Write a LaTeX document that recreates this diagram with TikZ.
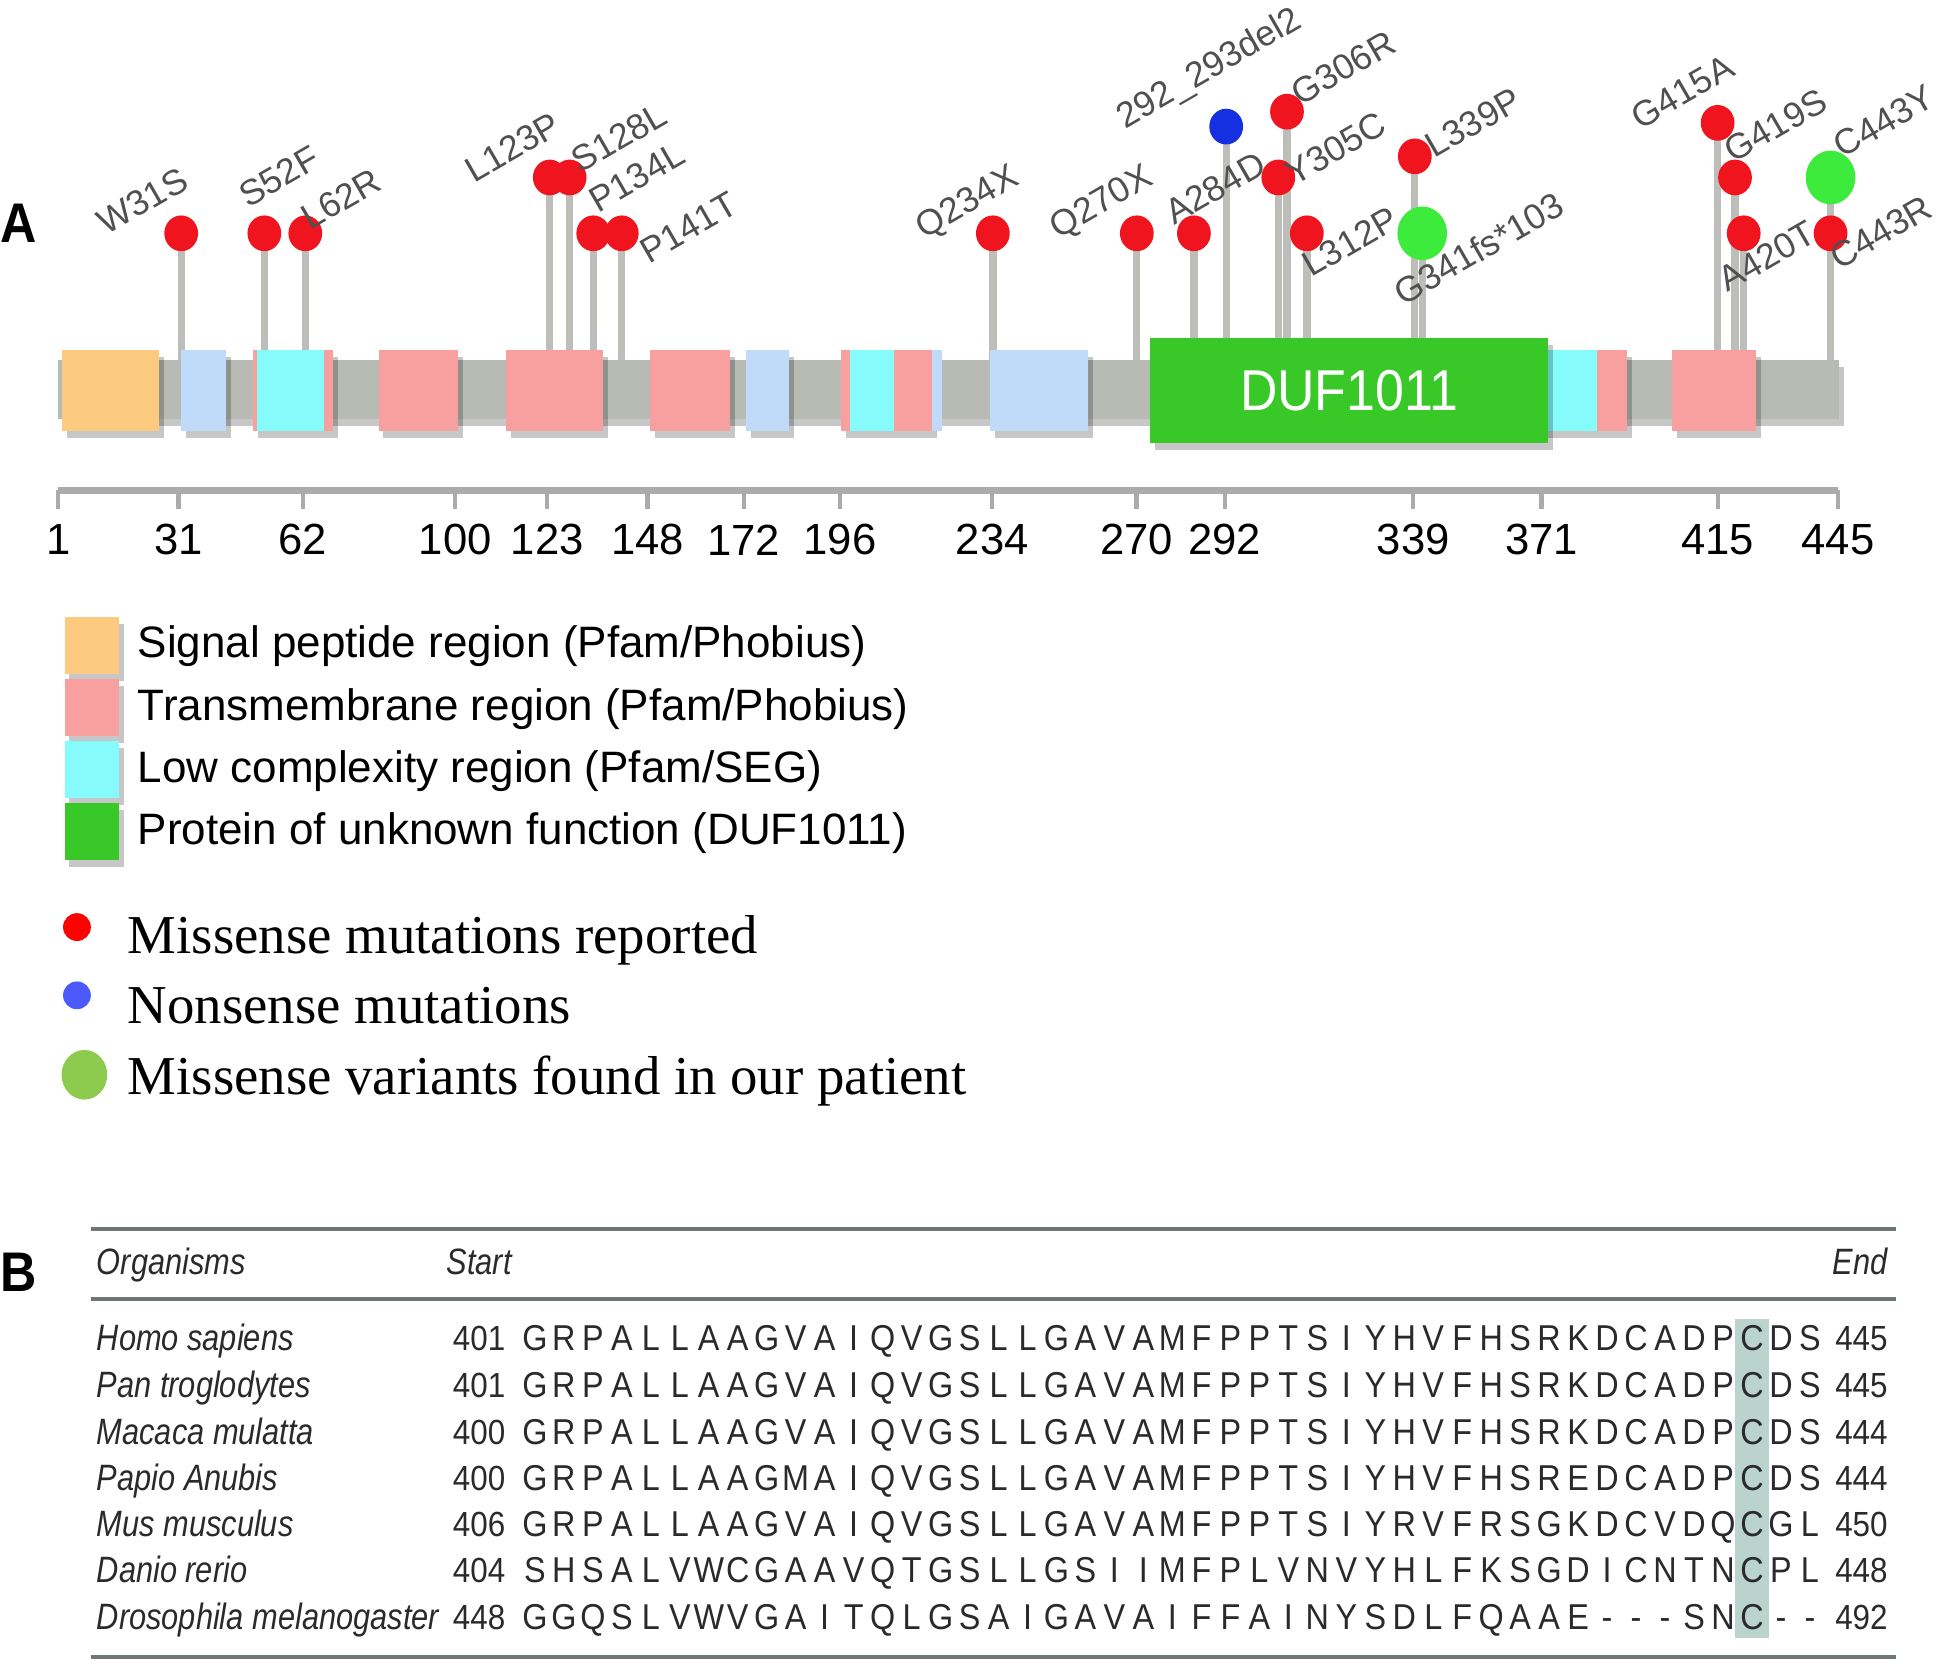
\documentclass[tikz,border=0pt]{standalone}
\usepackage{fontspec}
\setmainfont{Liberation Sans}
\newfontfamily\serifname{Liberation Serif}
\newfontfamily\narrowsans[FakeStretch=0.9]{Liberation Sans}
\newfontfamily\condsans[FakeStretch=0.84]{Liberation Sans}
\usetikzlibrary{shapes.geometric, backgrounds, shadows}

\definecolor{sigorange}{HTML}{FCCB80}
\definecolor{tmpink}{HTML}{F8A0A0}
\definecolor{lowcyan}{HTML}{86FBFB}
\definecolor{paleblue}{HTML}{C0DBF9}
\definecolor{dufgreen}{HTML}{38C928}
\definecolor{bargray}{HTML}{B8BAB4}
\definecolor{stemgray}{HTML}{BDBEBA}
\definecolor{axisgray}{HTML}{ABABAB}
\definecolor{misred}{HTML}{F0141E}
\definecolor{nonblue}{HTML}{1530E0}
\definecolor{patgreen}{HTML}{3CEB3C}
\definecolor{labgray}{HTML}{505050}
\definecolor{legred}{HTML}{FF0000}
\definecolor{legblue}{HTML}{4A5AFF}
\definecolor{legolive}{HTML}{8DCB4E}
\definecolor{consbox}{HTML}{BAD3CD}
\definecolor{rulegray}{HTML}{6F7775}
\definecolor{tabtext}{HTML}{2A2A2A}

% one row of the alignment, one node per residue
\makeatletter
\newcount\seqcol
\newcommand{\seqrow}[3]{%
  \seqcol=0
  \@tfor\res:=#3\do{%
    \node[resid] (#1c\the\seqcol) at ({431+\the\seqcol*23.35},#2) {\res};
    \global\advance\seqcol by 1}}
\makeatother

\begin{document}
\begin{tikzpicture}[
	x=0.0125cm, y=-0.0125cm,
	every node/.style={inner sep=0pt, outer sep=0pt},
	mis/.style={ellipse, fill=misred, minimum width=0.34cm, minimum height=0.36cm},
	non/.style={mis, fill=nonblue},
	pat/.style={ellipse, fill=patgreen, minimum width=0.5cm, minimum height=0.54cm},
	stem/.style={draw=stemgray, line width=2.1pt},
	mlab/.style={rotate=30, anchor=base west, text=labgray, font=\fontsize{10.2}{11}\selectfont},
	dom/.style={drop shadow={shadow xshift=0.05cm, shadow yshift=-0.07cm, fill=black, opacity=0.22}},
	axtick/.style={draw=axisgray, line width=1.2pt},
	axisnum/.style={font=\fontsize{12.5}{14}\selectfont},
	legbox/.style={dom, minimum width=0.55cm, minimum height=0.57cm},
	legtext/.style={anchor=west, font=\fontsize{12.6}{15}\selectfont},
	dottext/.style={anchor=base west, font=\serifname\fontsize{15.7}{18}\selectfont},
	tabtxt/.style={anchor=base west, font=\narrowsans\fontsize{10}{12}\selectfont, text=tabtext},
	orgtxt/.style={tabtxt, font=\condsans\itshape\fontsize{10.5}{12}\selectfont},
	resid/.style={anchor=base, font=\narrowsans\fontsize{10.3}{12}\selectfont, text=tabtext},
	seqrule/.style={draw=rulegray, line width=1.1pt},
	panel/.style={font=\narrowsans\bfseries\fontsize{16}{18}\selectfont}
]
\useasboundingbox (0,0) rectangle (1568,1340);

% panel A: protein track
\node[panel] (labA) at (15,180) {A};
\coordinate (bartop) at (0,300);
\fill[bargray, dom] (47,290) rectangle (1482,338);

\fill[sigorange, dom] (50,282) rectangle (128,347);
\fill[paleblue, dom] (146,282) rectangle (182,347);
\fill[tmpink, dom] (204,282) rectangle (268,347);
\fill[lowcyan] (207,282) rectangle (261,347);
\fill[tmpink, dom] (305,282) rectangle (369,347);
\fill[tmpink, dom] (408,282) rectangle (486,347);
\fill[tmpink, dom] (524,282) rectangle (588,347);
\fill[paleblue, dom] (601,282) rectangle (636,347);
\fill[tmpink, dom] (678,282) rectangle (751,347);
\fill[lowcyan] (685,282) rectangle (720,347);
\fill[paleblue] (751,282) rectangle (759,347);
\fill[paleblue, dom] (798,282) rectangle (877,347);
\fill[lowcyan, dom] (1240,282) rectangle (1287,347);
\fill[tmpink, dom] (1287,282) rectangle (1311,347);
\fill[tmpink, dom] (1347,282) rectangle (1415,347);
\node[dom, fill=dufgreen, minimum width=4cm, minimum height=1.0625cm, text=white,
	font=\narrowsans\fontsize{16.5}{18}\selectfont] (duf) at (1087,314.5) {DUF1011};

% mutation heads
\node[mis] (m31) at (146,188) {};
\node[mis] (m52) at (213,188) {};
\node[mis] (m62) at (246,188) {};
\node[mis] (m123) at (443,143) {};
\node[mis] (m128) at (459,143) {};
\node[mis] (m134) at (478,188) {};
\node[mis] (m141) at (501,188) {};
\node[mis] (m234) at (800,188) {};
\node[mis] (m270) at (916,188) {};
\node[mis] (m284) at (962,188) {};
\node[non] (m292) at (988,102) {};
\node[mis] (m305) at (1030,143) {};
\node[mis] (m306) at (1037,90) {};
\node[mis] (m312) at (1053,188) {};
\node[mis] (m339) at (1140,126) {};
\node[pat] (m341) at (1146,188) {};
\node[mis] (m415) at (1384,99) {};
\node[mis] (m419) at (1398,143) {};
\node[mis] (m420) at (1405,188) {};
\node[pat] (m443y) at (1475,143) {};
\node[mis] (m443r) at (1475,188) {};

\begin{pgfonlayer}{background}
\foreach \m in {m31,m52,m62,m123,m128,m134,m141,m234,m270,m284,m292,m305,m306,m312,m339,m341,m415,m419,m420,m443y}
	\draw[stem] (\m.center) -- (\m.center |- bartop);
\end{pgfonlayer}

% mutation labels
\node[mlab] (l31) at (86,190) {W31S};
\node[mlab] (l52) at (200,168) {S52F};
\node[mlab] (l62) at (250,186) {L62R};
\node[mlab] (l123) at (382,148) {L123P};
\node[mlab] (l128) at (468,140) {S128L};
\node[mlab] (l134) at (482,172) {P134L};
\node[mlab] (l141) at (523,213) {P141T};
\node[mlab] (l234) at (745,193) {Q234X};
\node[mlab] (l270) at (853,193) {Q270X};
\node[mlab] (l284) at (946,182) {A284D};
\node[mlab] (l292) at (907,104) {292\_293del2};
\node[mlab] (l305) at (1043,150) {Y305C};
\node[mlab] (l306) at (1048,86) {G306R};
\node[mlab] (l312) at (1057,224) {L312P};
\node[mlab] (l339) at (1156,128) {L339P};
\node[mlab] (l341) at (1131,247) {G341fs*103};
\node[mlab] (l415) at (1322,105) {G415A};
\node[mlab] (l419) at (1397,132) {G419S};
\node[mlab] (l420) at (1392,236) {A420T};
\node[mlab] (l443y) at (1485,128) {C443Y};
\node[mlab] (l443r) at (1482,218) {C443R};

% residue axis
\draw[axtick, line width=2pt] (47,395) -- (1481,395);
\foreach \r in {1,31,62,100,123,148,172,196,234,270,292,339,371,415,445}{
	\pgfmathsetmacro{\tx}{47+(\r-1)*3.2297}
	\draw[axtick] (\tx,395) -- (\tx,410);
	\node[axisnum] (n\r) at (\tx,435) {\r};
}

% domain legend
\node[legbox, fill=sigorange] (k1) at (74,520) {};
\node[legbox, fill=tmpink] (k2) at (74,570) {};
\node[legbox, fill=lowcyan] (k3) at (74,620) {};
\node[legbox, fill=dufgreen] (k4) at (74,670) {};
\node[legtext] (t1) at (111,521) {Signal peptide region (Pfam/Phobius)};
\node[legtext] (t2) at (111,571) {Transmembrane region (Pfam/Phobius)};
\node[legtext] (t3) at (111,621) {Low complexity region (Pfam/SEG)};
\node[legtext] (t4) at (111,671) {Protein of unknown function (DUF1011)};

% mutation legend
\node[circle, fill=legred, minimum size=0.28cm] (d1) at (62,747) {};
\node[circle, fill=legblue, minimum size=0.28cm] (d2) at (62,802) {};
\node[ellipse, fill=legolive, minimum width=0.46cm, minimum height=0.5cm] (d3) at (68,866) {};
\node[dottext] (u1) at (103,768) {Missense mutations reported};
\node[dottext] (u2) at (103,825) {Nonsense mutations};
\node[dottext] (u3) at (103,882) {Missense variants found in our patient};

% panel B: alignment
\node[panel] (labB) at (15,1025) {B};
\draw[seqrule] (73,990) -- (1528,990);
\draw[seqrule] (73,1047) -- (1528,1047);
\draw[seqrule] (73,1335) -- (1528,1335);
\fill[consbox] (1398,1063) rectangle (1425,1320);
\node[orgtxt] (hOrg) at (78,1027) {Organisms};
\node[orgtxt] (hStart) at (360,1027) {Start};
\node[orgtxt, anchor=base east] (hEnd) at (1521,1027) {End};

\foreach \y/\org/\st/\en [count=\k] in {1088/Homo sapiens/401/445, 1126/Pan troglodytes/401/445,
	1164/Macaca mulatta/400/444, 1201/Papio Anubis/400/444, 1238/Mus musculus/406/450,
	1275/Danio rerio/404/448, 1313/Drosophila melanogaster/448/492}{
	\node[orgtxt] (org\k) at (78,\y) {\org};
	\node[tabtxt] (st\k) at (365,\y) {\st};
	\node[tabtxt, anchor=base east] (en\k) at (1521,\y) {\en};
}
\seqrow{homo}{1088}{GRPALLAAGVAIQVGSLLGAVAMFPPTSIYHVFHSRKDCADPCDS}
\seqrow{pan}{1126}{GRPALLAAGVAIQVGSLLGAVAMFPPTSIYHVFHSRKDCADPCDS}
\seqrow{mac}{1164}{GRPALLAAGVAIQVGSLLGAVAMFPPTSIYHVFHSRKDCADPCDS}
\seqrow{pap}{1201}{GRPALLAAGMAIQVGSLLGAVAMFPPTSIYHVFHSREDCADPCDS}
\seqrow{mus}{1238}{GRPALLAAGVAIQVGSLLGAVAMFPPTSIYRVFRSGKDCVDQCGL}
\seqrow{dan}{1275}{SHSALVWCGAAVQTGSLLGSIIMFPLVNVYHLFKSGDICNTNCPL}
\seqrow{dro}{1313}{GGQSLVWVGAITQLGSAIGAVAIFFAINYSDLFQAAE---SNC--}

\end{tikzpicture}
\end{document}
